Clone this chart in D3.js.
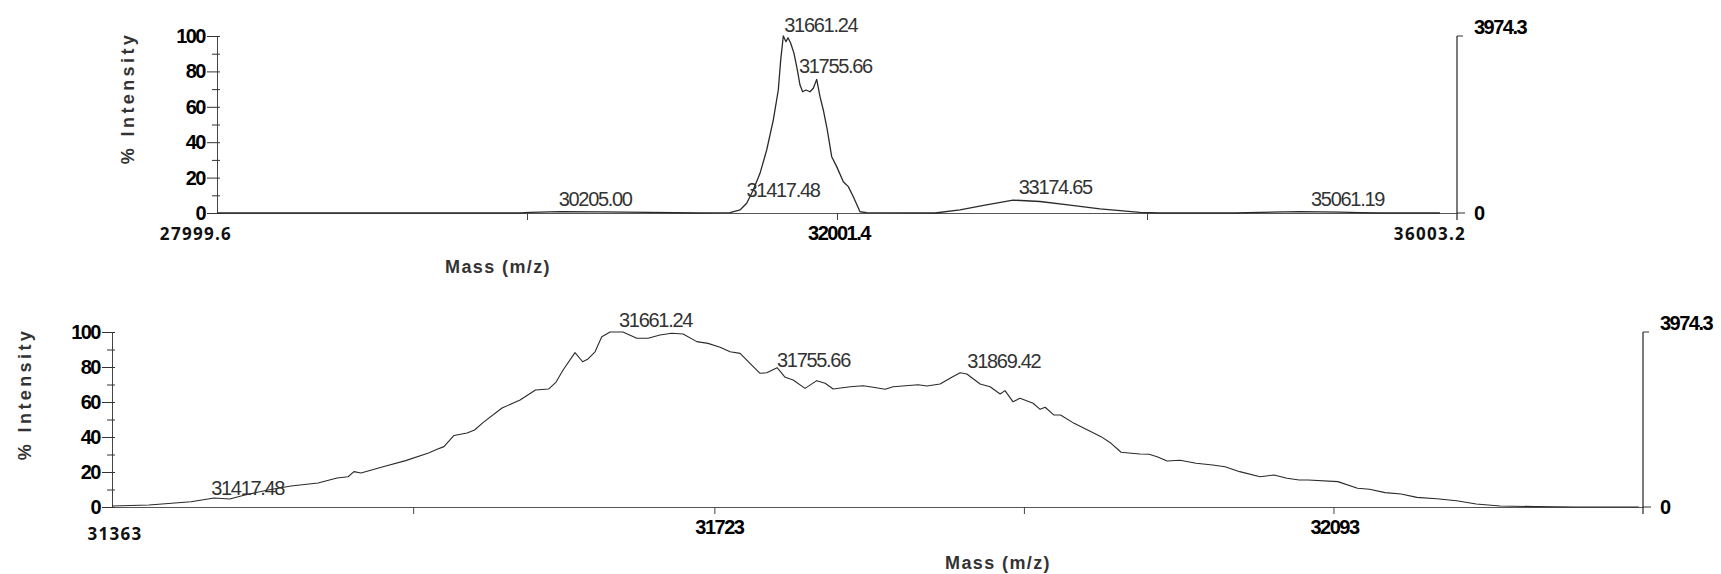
<!DOCTYPE html>
<html>
<head>
<meta charset="utf-8">
<script src="https://cdn.jsdelivr.net/npm/d3@7"></script>
<style>
  html, body { margin: 0; padding: 0; background: #fff; }
  svg { display: block; }
  .nb { font-family: "Liberation Sans", Arial, sans-serif; font-weight: bold; font-size: 20px; letter-spacing: -1.5px; fill: #000; }
  .pk { font-family: "Liberation Sans", Arial, sans-serif; font-size: 20px; letter-spacing: -1.3px; fill: #333; }
  .cb { font-family: "Open Sans", "Liberation Sans", sans-serif; font-weight: bold; font-size: 17px; letter-spacing: 1.3px; fill: #111; }
  .ttl { font-family: "Liberation Sans", Arial, sans-serif; font-weight: bold; font-size: 18px; fill: #333; }
</style>
</head>
<body>
<svg id="chart" width="1721" height="574"></svg>
<script>
// ---- Full-range spectrum (upper trace) ----
const topMass = [27999.6, 29955, 30020, 30213.5, 30471.7, 30794, 31117, 31311, 31375.3, 31418.5,
  31461, 31504.4, 31547.6, 31590.2, 31622.5, 31638, 31654.8, 31672.3, 31685.2, 31702.6,
  31723.9, 31745.2, 31762.6, 31780, 31801.3, 31827.1, 31848.4, 31870.4, 31891.7, 31913,
  31938.8, 31967.2, 31999.5, 32042.1, 32074.4, 32106.7, 32149.9, 32193.2, 32634, 32795.4,
  32956.8, 33137.5, 33311.8, 33505.4, 33699, 33957, 34086, 34570, 34731.6, 34989.8,
  35248, 35377, 35506, 35893];
const topPct = [0, 0, 0.4, 0.8, 0.6, 0.3, 0, 0.2, 1.7, 5.5,
  13.0, 22.4, 35.6, 52.5, 69.5, 86.4, 100, 96.8, 99, 95.9,
  90.2, 80.8, 72.3, 68.5, 69.5, 68.5, 70.5, 75.5, 65.7, 58.2,
  46.9, 31.8, 26.2, 17.7, 14.9, 9.2, 0.7, 0.2, 0, 1.8,
  4.5, 7.3, 6.5, 4.5, 2.3, 0.4, 0, 0, 0.4, 0.8,
  0.5, 0.2, 0, 0];
const topPeaks = [30205.00, 31417.48, 31661.24, 31755.66, 33174.65, 35061.19];
const topTicks = [27999.6, 30000.5, 32001.4, 34002.3, 36003.2];
const topTickLabels = ["27999.6", "", "32001.4", "", "36003.2"];

// ---- Zoomed spectrum (lower trace) ----
const botMass = [31363, 31385.1, 31410.2, 31424.0, 31433.3, 31442.5, 31456.2, 31470.0, 31486.1, 31497.5,
  31504.1, 31507.6, 31511.8, 31525.0, 31538.5, 31552.2, 31557.3, 31561.4, 31567.4, 31575.2,
  31579.7, 31584.7, 31596.1, 31606.9, 31616.1, 31623.9, 31628.4, 31632.6, 31639.7, 31644.3,
  31647.5, 31651.7, 31655.7, 31660.7, 31668.4, 31676.6, 31683.4, 31690.5, 31697.5, 31704.3,
  31712.5, 31719.2, 31726.4, 31732.4, 31738.4, 31744.3, 31750.3, 31754.3, 31760.5, 31765.3,
  31770.1, 31777.2, 31784.2, 31789.2, 31794.0, 31804.2, 31811.9, 31817.9, 31825.1, 31829.8,
  31844.8, 31850.0, 31857.9, 31864.9, 31869.9, 31873.9, 31881.8, 31887.8, 31893.8, 31896.7,
  31901.4, 31905.7, 31913.5, 31917.7, 31920.7, 31925.8, 31929.9, 31938.0, 31946.1, 31954.1,
  31960.1, 31966.1, 31972.3, 31977.4, 31982.8, 31987.6, 31993.6, 32001.4, 32010.9, 32020.8,
  32028.2, 32037.0, 32049.2, 32057.4, 32065.3, 32072.5, 32077.9, 32095.6, 32107.4, 32114.5,
  32123.9, 32133.4, 32142.9, 32154.7, 32166.6, 32178.3, 32192.6, 32213.9, 32237.5, 32275.5];
const botPct = [0.6, 1.1, 3.0, 5.1, 4.6, 6.9, 9.7, 12.0, 13.7, 16.6,
  17.3, 20.2, 19.4, 23.0, 26.5, 30.9, 33.0, 34.5, 40.9, 42.3,
  44.0, 48.2, 56.6, 61.1, 66.9, 67.4, 71.4, 78.3, 88.2, 83.0,
  84.6, 88.7, 97.3, 100, 100, 96.4, 96.4, 98.3, 99.3, 98.9,
  94.5, 93.5, 91.3, 88.7, 87.8, 82.1, 76.4, 76.7, 79.6, 74.1,
  72.6, 67.8, 72.2, 70.7, 67.4, 68.7, 69.3, 68.4, 67.3, 68.7,
  69.9, 69.1, 70.3, 74.1, 76.7, 76.0, 70.3, 68.7, 64.6, 66.5,
  60.2, 62.1, 59.3, 55.8, 57.0, 52.6, 52.6, 47.8, 44.0, 40.2,
  36.4, 31.3, 30.7, 30.3, 30.1, 28.7, 26.3, 26.7, 25.0, 24.0,
  23.0, 20.2, 17.3, 18.3, 16.4, 15.4, 15.4, 14.5, 10.7, 10.1,
  8.2, 7.4, 5.5, 4.7, 3.6, 1.7, 0.6, 0.2, 0, 0];
const botPeaks = [31417.48, 31661.24, 31755.66, 31869.42];
const botTicks = [31363, 31543, 31723, 31908, 32093, 32278];
const botTickLabels = ["31363", "", "31723", "", "32093", ""];

const pctTicks = [0, 20, 40, 60, 80, 100];
const pctMinor = [10, 30, 50, 70, 90];
const maxCounts = 3974.3;

const svg = d3.select("#chart");

function panel(cfg) {
  const g = svg.append("g");
  const x = d3.scaleLinear().domain(cfg.xDomain).range([cfg.left, cfg.right]);
  const y = d3.scaleLinear().domain([0, 100]).range([cfg.bottom, cfg.top]);
  const yc = d3.scaleLinear().domain([0, maxCounts]).range([cfg.bottom, cfg.top]);

  // x axis: baseline and unlabeled ticks
  const xa = g.append("g").attr("transform", `translate(0,${cfg.bottom})`)
    .call(d3.axisBottom(x).tickValues(cfg.ticks).tickSize(cfg.xTickLen).tickSizeOuter(0).tickFormat(""));
  xa.select(".domain").attr("stroke", "#555");
  xa.selectAll(".tick line").attr("stroke", "#444");
  xa.selectAll(".tick").filter((d, i) => i === 0 || i === cfg.ticks.length - 1).remove();

  // left % axis: major ticks, minor ticks and the short stubs across the axis
  const ya = g.append("g").attr("transform", `translate(${cfg.left},0)`)
    .call(d3.axisLeft(y).tickValues(pctTicks).tickSize(10).tickSizeOuter(0).tickFormat(""));
  ya.select(".domain").attr("stroke", "#444");
  ya.selectAll(".tick line").attr("stroke", "#333");
  const ym = g.append("g").attr("transform", `translate(${cfg.left},0)`)
    .call(d3.axisLeft(y).tickValues(pctMinor).tickSize(5).tickFormat(""));
  ym.select(".domain").remove();
  ym.selectAll(".tick line").attr("stroke", "#333");
  const yr = g.append("g").attr("transform", `translate(${cfg.left},0)`)
    .call(d3.axisRight(y).tickValues(pctTicks.concat(pctMinor)).tickSize(3).tickFormat(""));
  yr.select(".domain").remove();
  yr.selectAll(".tick line").attr("stroke", "#333");

  g.selectAll("text.ylab").data(pctTicks).join("text")
    .attr("class", "nb")
    .attr("x", cfg.left - 12).attr("y", d => y(d))
    .attr("text-anchor", "end").attr("dominant-baseline", "central")
    .text(d => d);

  // right counts axis
  const rx = x.range()[1];
  g.append("line").attr("x1", rx).attr("x2", rx)
    .attr("y1", yc(maxCounts)).attr("y2", cfg.bottom + 7)
    .attr("stroke", "#222").attr("stroke-width", 1.2);
  g.selectAll("line.rt").data([0, maxCounts]).join("line")
    .attr("x1", rx).attr("x2", d => rx + (d ? 6 : 8))
    .attr("y1", d => yc(d)).attr("y2", d => yc(d))
    .attr("stroke", "#333");
  g.selectAll("text.rlab").data([0, maxCounts]).join("text")
    .attr("class", "nb")
    .attr("x", rx + 17).attr("y", d => yc(d) - (d ? 9 : 0))
    .attr("dominant-baseline", "central")
    .text(d => d ? d3.format(".1f")(d) : "0");

  // x tick labels
  cfg.ticks.forEach((t, i) => {
    const s = cfg.tickLabels[i];
    if (!s) return;
    const st = cfg.tickStyle[i];
    g.append("text").attr("class", st.cls)
      .attr("x", x(t) + st.dx).attr("y", cfg.bottom + st.dy)
      .attr("text-anchor", "middle").attr("dominant-baseline", "central")
      .text(s);
  });

  // spectrum trace
  const pts = d3.zip(cfg.mass, cfg.pct);
  g.append("path").datum(pts)
    .attr("fill", "none").attr("stroke", "#2a2a2a").attr("stroke-width", cfg.lineW)
    .attr("stroke-linejoin", "round")
    .attr("d", d3.line().x(d => x(d[0])).y(d => y(d[1])));

  // peak annotations
  const interp = m => {
    const i = d3.bisector(d => d[0]).left(pts, m);
    if (i <= 0) return pts[0][1];
    if (i >= pts.length) return pts[pts.length - 1][1];
    const a = pts[i - 1], b = pts[i];
    return a[1] + (b[1] - a[1]) * (m - a[0]) / (b[0] - a[0]);
  };
  g.selectAll("text.pk").data(cfg.peaks).join("text")
    .attr("class", "pk")
    .attr("x", d => x(d) + cfg.peakDx)
    .attr("y", d => y(interp(d)) - cfg.peakGap)
    .text(d => d3.format(".2f")(d));

  // axis titles
  g.append("text").attr("class", "ttl")
    .attr("transform", `translate(${cfg.yTitleX},${cfg.yTitleY}) rotate(-90)`)
    .attr("text-anchor", "middle").attr("dominant-baseline", "central")
    .style("letter-spacing", "3.4px")
    .text("% Intensity");
  g.append("text").attr("class", "ttl")
    .attr("x", cfg.xTitleX).attr("y", cfg.xTitleY)
    .attr("text-anchor", "middle").attr("dominant-baseline", "central")
    .style("letter-spacing", "1.4px")
    .text("Mass (m/z)");
}

panel({
  xDomain: [27999.6, 36003.2], left: 217, right: 1457, top: 36, bottom: 213,
  ticks: topTicks, tickLabels: topTickLabels, xTickLen: 7,
  tickStyle: [
    { cls: "cb", dx: -21, dy: 20 }, null,
    { cls: "nb", dx: 2, dy: 20 }, null,
    { cls: "cb", dx: -27, dy: 20 }
  ],
  mass: topMass, pct: topPct, lineW: 1.3,
  peaks: topPeaks, peakDx: 0, peakGap: 6,
  yTitleX: 128, yTitleY: 98, xTitleX: 498, xTitleY: 267
});

panel({
  xDomain: [31363, 32278], left: 112, right: 1643, top: 332, bottom: 507,
  ticks: botTicks, tickLabels: botTickLabels, xTickLen: 7,
  tickStyle: [
    { cls: "cb", dx: 3, dy: 26 }, null,
    { cls: "nb", dx: 5, dy: 20 }, null,
    { cls: "nb", dx: 1, dy: 20 }, null
  ],
  mass: botMass, pct: botPct, lineW: 1.1,
  peaks: botPeaks, peakDx: 8, peakGap: 5,
  yTitleX: 25, yTitleY: 394, xTitleX: 998, xTitleY: 563
});
</script>
</body>
</html>
